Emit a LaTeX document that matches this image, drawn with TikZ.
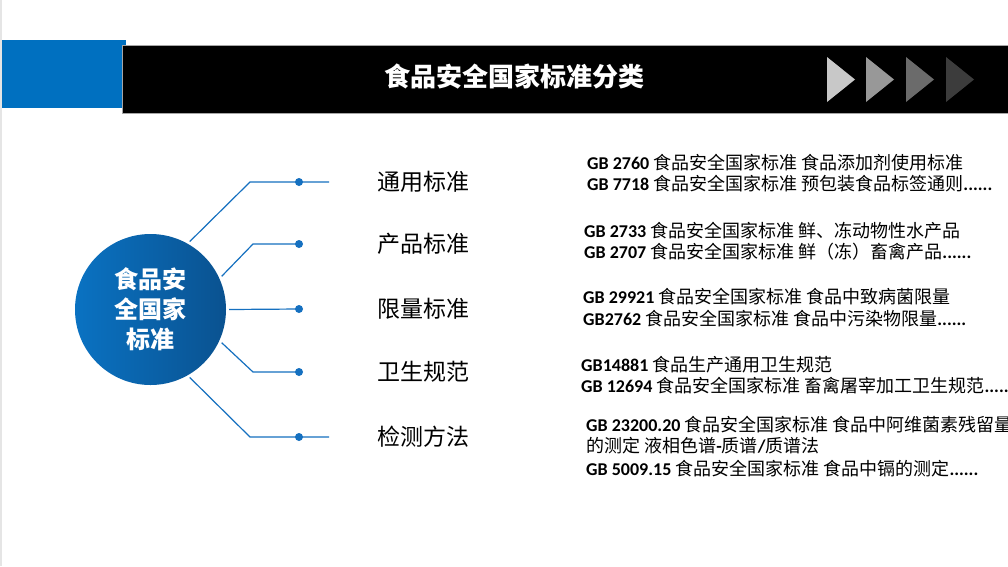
\documentclass[tikz,border=0pt]{standalone}
\usepackage{fontspec}
\setmainfont{Noto Sans CJK SC}
\newfontfamily\carl{Carlito}
\definecolor{hdblue}{HTML}{0070C0}
\definecolor{lnblue}{HTML}{1570C0}
\definecolor{cleft}{HTML}{0A72C2}
\definecolor{cright}{HTML}{0A5290}
\definecolor{tri1}{HTML}{C8C8C8}
\definecolor{tri2}{HTML}{989898}
\definecolor{tri3}{HTML}{6B6B6B}
\definecolor{tri4}{HTML}{3C3C3C}
\newcommand\gbb[1]{{\carl\bfseries #1}}
\tikzset{
  conn/.style={draw=lnblue, line width=1.2pt},
  dotn/.style={circle, fill=lnblue, inner sep=0pt, minimum size=8pt},
  cat/.style={anchor=west, inner sep=0pt, font=\fontsize{23}{26}\selectfont},
  std/.style={anchor=base west, inner sep=0pt, font=\fontsize{18}{21}\selectfont},
}
\begin{document}
\begin{tikzpicture}[x=1pt,y=-1pt]
\useasboundingbox (0,0) rectangle (1008,566);
\clip (0,0) rectangle (1008,566);
\fill[white] (0,0) rectangle (1008,566);
\fill[gray!20] (0,0) rectangle (2,566);
% header
\fill[hdblue] (2,40) rectangle (126,108);
\filldraw[fill=black, draw=gray!70, line width=0.8pt] (122,45) rectangle (1010,113);
\node[text=white, font=\fontsize{26}{29}\selectfont\bfseries] (title) at (514,77) {食品安全国家标准分类};
\fill[tri1] (827,57) -- (855,79.5) -- (827,102) -- cycle;
\fill[tri2] (866,57) -- (894,79.5) -- (866,102) -- cycle;
\fill[tri3] (906,57) -- (934,79.5) -- (906,102) -- cycle;
\fill[tri4] (946,57) -- (974,79.5) -- (946,102) -- cycle;
% centre circle
\node[circle, minimum size=151pt, inner sep=0pt, outer sep=3pt, left color=cleft, right color=cright,
      text=white, align=center, font=\fontsize{24}{30}\selectfont\bfseries] (c) at (150.5,309.5)
      {\raisebox{-3pt}{\parbox{80pt}{\centering 食品安\\全国家\\标准}}};
% bends and dots
\coordinate (b1) at (250,182);
\coordinate (b2) at (253,244);
\coordinate (b4) at (253,372);
\coordinate (b5) at (250,437);
\node[dotn] (d1) at (299,182) {};
\node[dotn] (d2) at (299,244) {};
\node[dotn] (d3) at (299,309) {};
\node[dotn] (d4) at (299,372) {};
\node[dotn] (d5) at (299,437) {};
\coordinate (e1) at (329,182);
\coordinate (e5) at (329,437);
\draw[conn] (c.60) -- (b1) -- (d1.center) -- (e1);
\draw[conn] (c.25) -- (b2) -- (d2.center);
\draw[conn] (c.0) -- (d3.center);
\draw[conn] (c.-25) -- (b4) -- (d4.center);
\draw[conn] (c.-60) -- (b5) -- (d5.center) -- (e5);
% categories
\node[cat] (l1) at (377,182) {通用标准};
\node[cat] (l2) at (377,244) {产品标准};
\node[cat] (l3) at (377,309) {限量标准};
\node[cat] (l4) at (377,372) {卫生规范};
\node[cat] (l5) at (377,437) {检测方法};
% standards
\node[std] (s11) at (587,169) {\gbb{GB 2760 }食品安全国家标准\gbb{ }食品添加剂使用标准};
\node[std] (s12) at (587,190) {\gbb{GB 7718 }食品安全国家标准\gbb{ }预包装食品标签通则\gbb{......}};
\node[std] (s21) at (584,237) {\gbb{GB 2733 }食品安全国家标准\gbb{ }鲜、冻动物性水产品};
\node[std] (s22) at (584,258) {\gbb{GB 2707 }食品安全国家标准\gbb{ }鲜（冻）畜禽产品\gbb{......}};
\node[std] (s31) at (583,303) {\gbb{GB 29921 }食品安全国家标准\gbb{ }食品中致病菌限量};
\node[std] (s32) at (583,325) {\gbb{GB2762 }食品安全国家标准\gbb{ }食品中污染物限量\gbb{......}};
\node[std] (s41) at (581,371) {\gbb{GB14881 }食品生产通用卫生规范};
\node[std] (s42) at (581,392) {\gbb{GB 12694 }食品安全国家标准\gbb{ }畜禽屠宰加工卫生规范\gbb{......}};
\node[std] (s51) at (586,431) {\gbb{GB 23200.20 }食品安全国家标准\gbb{ }食品中阿维菌素残留量};
\node[std] (s52) at (586,452) {的测定\gbb{ }液相色谱\gbb{-}质谱\gbb{/}质谱法};
\node[std] (s53) at (586,475) {\gbb{GB 5009.15 }食品安全国家标准\gbb{ }食品中镉的测定\gbb{......}};
\end{tikzpicture}
\end{document}
